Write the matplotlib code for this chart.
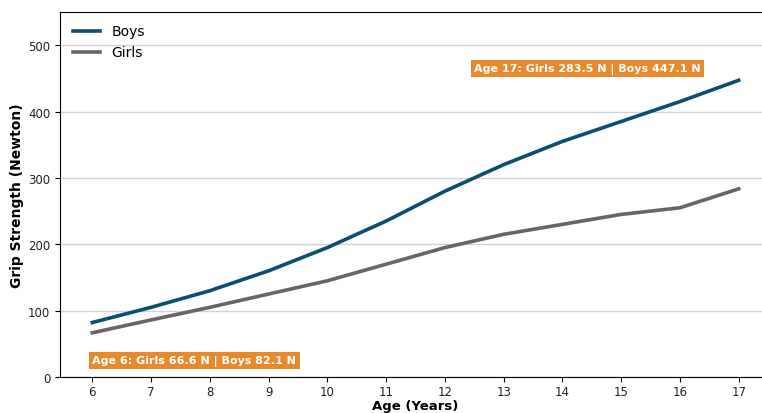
import matplotlib
matplotlib.use("Agg")
import matplotlib.pyplot as plt

# grip strength by age
ages = [6, 7, 8, 9, 10, 11, 12, 13, 14, 15, 16, 17]
boys = [82.1, 105, 130, 160, 195, 235, 280, 320, 355, 385, 415, 447.1]
girls = [66.6, 86, 105, 125, 145, 170, 195, 215, 230, 245, 255, 283.5]

boys_color = '#0b4f6c'
girls_color = '#666666'
box_color = '#e8892b'

fig = plt.figure(figsize=(7.62, 4.14), dpi=100)
ax = fig.add_axes([60 / 762, 36 / 414, 711 / 762, 365 / 414])

ax.plot(ages, boys, color=boys_color, linewidth=2.6, label='Boys')
ax.plot(ages, girls, color=girls_color, linewidth=2.6, label='Girls')

ax.set_xlim(5.45, 17.55)
ax.set_ylim(0, 550)
ax.set_xticks(ages)
ax.set_yticks([0, 100, 200, 300, 400, 500])
ax.tick_params(labelsize=8.5, labelcolor='#222222')
ax.tick_params(axis='x', pad=2.5)
ax.yaxis.grid(True, color='#d3d3d3', linewidth=1)
ax.set_axisbelow(True)

ax.set_xlabel('Age (Years)', fontsize=9.5, fontweight='bold', labelpad=0.5)
ax.set_ylabel('Grip Strength (Newton)', fontsize=10, fontweight='bold', labelpad=3)

ax.legend(loc='upper left', frameon=False, fontsize=10)

bbox = dict(boxstyle='square,pad=0.3', facecolor=box_color, edgecolor='none')
ax.text(6, 25, 'Age 6: Girls %.1f N | Boys %.1f N' % (girls[0], boys[0]),
        color='white', fontsize=8, fontweight='bold', va='center', ha='left', bbox=bbox)
ax.text(12.5, 465, 'Age 17: Girls %.1f N | Boys %.1f N' % (girls[-1], boys[-1]),
        color='white', fontsize=8, fontweight='bold', va='center', ha='left', bbox=bbox)

fig.savefig('out.png', dpi=100)
